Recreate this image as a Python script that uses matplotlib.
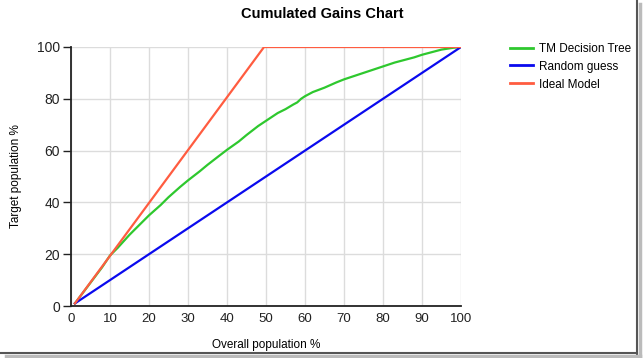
import matplotlib
matplotlib.use("Agg")
import matplotlib.pyplot as plt
from matplotlib.lines import Line2D

plt.rcParams['font.family'] = ['Liberation Sans', 'DejaVu Sans']

title = "Cumulated Gains Chart"
xlabel = "Overall population %"
ylabel = "Target population %"

tree_x = [1, 3, 5, 8, 10, 12, 15, 18, 20, 23, 25, 28, 30, 33, 35, 38, 40, 43, 45, 48, 50,
          53, 55, 57, 58, 59, 60, 62, 65, 68, 70, 73, 75, 78, 80, 83, 85, 88, 90, 93, 95, 98, 100]
tree_y = [1, 5, 9, 15, 19.5, 22.5, 27.5, 32, 35, 39, 42, 46, 48.5, 52, 54.5, 58, 60.3, 63.5, 66, 69.5, 71.5,
          74.5, 76, 77.8, 78.6, 80, 81, 82.6, 84.3, 86.3, 87.5, 89, 90, 91.5, 92.5, 94, 94.8, 96, 97, 98.2, 99, 99.7, 100]
random_x = [1, 100]
random_y = [1, 100]
ideal_x = [1, 49.5, 100]
ideal_y = [1, 100, 100]

series_names = ["TM Decision Tree", "Random guess", "Ideal Model"]
colors = ["#2ec82e", "#0a0aee", "#ff5c40"]

fig = plt.figure(figsize=(6.44, 3.58), dpi=100)
ax = fig.add_axes([71/644, 1-306/358, (461-71)/644, (306-47)/358])

ax.plot(tree_x, tree_y, color=colors[0], lw=1.6, label=series_names[0], zorder=3)
ax.plot(random_x, random_y, color=colors[1], lw=1.6, label=series_names[1], zorder=3)
ax.plot(ideal_x, ideal_y, color=colors[2], lw=1.6, label=series_names[2], zorder=3)

ax.set_xlim(0, 100)
ax.set_ylim(0, 100)
ax.set_xticks(range(0, 101, 10))
ax.set_yticks(range(0, 101, 20))
ax.grid(True, color="#dcdcdc", lw=1.0)
ax.set_axisbelow(True)
for s in ["top", "right"]:
    ax.spines[s].set_visible(False)
for s in ["left", "bottom"]:
    ax.spines[s].set_linewidth(1.3)
    ax.spines[s].set_color("#222222")
ax.tick_params(axis='y', length=6, width=1.0, direction='out', labelsize=10, pad=2, colors="#222222")
ax.tick_params(axis='x', length=0, labelsize=9.5, pad=5, colors="#222222")

fig.text(0.5, 1-14/358, title, ha='center', va='center', fontsize=10.5, fontweight='bold')
fig.text(266/644, 1-345/358, xlabel, ha='center', va='center', fontsize=8.5)
fig.text(16/644, 1-176/358, ylabel, ha='center', va='center', fontsize=8.5, rotation=90)

handles = [Line2D([0], [0], color=c, lw=2) for c in colors]
fig.legend(handles, series_names, loc='upper left', bbox_to_anchor=(505/644, 1-38/358),
           frameon=False, fontsize=8.5, handlelength=2.0, handletextpad=0.5, labelspacing=0.5,
           borderaxespad=0)

# screenshot frame shadow
fig.add_artist(Line2D([637/644, 637/644], [0.0, 1.0], transform=fig.transFigure, color="#555555", lw=1.5))
fig.add_artist(Line2D([0.0, 637/644], [1-353/358, 1-353/358], transform=fig.transFigure, color="#555555", lw=1.5))
fig.add_artist(Line2D([640/644, 640/644], [0.0, 0.99], transform=fig.transFigure, color="#bbbbbb", lw=2.5))
fig.add_artist(Line2D([0.01, 640/644], [1-356/358, 1-356/358], transform=fig.transFigure, color="#bbbbbb", lw=2.5))

fig.savefig("out.png", dpi=100)
